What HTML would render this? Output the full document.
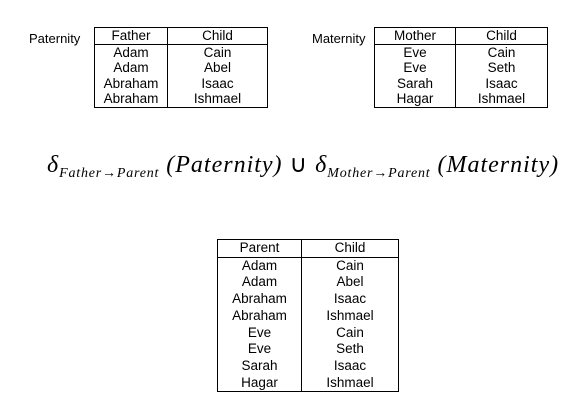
<!DOCTYPE html>
<html><head><style>
body{margin:0;width:577px;height:409px;background:#fff;position:relative;font-family:"Liberation Sans",Arial,sans-serif;overflow:hidden}
.lbl{position:absolute;font-size:13px;color:#000}
table{position:absolute;border-collapse:collapse;border:1.5px solid #000;font-size:13.5px;table-layout:fixed}
td{text-align:center;padding:0;line-height:15.6px;height:15.6px}
table.b td{line-height:16.7px;height:16.7px}
td.l{border-right:1px solid #000}
tr.h td{border-bottom:1.5px solid #000}
#f{position:absolute;left:47px;top:150px;font-family:"Liberation Serif",serif;font-style:italic;font-size:24px;white-space:nowrap;letter-spacing:1.0px}
#f sub{font-size:14px;vertical-align:-5px;letter-spacing:0.8px}
</style></head><body>
<div class="lbl" style="left:29px;top:31px">Paternity</div>
<table style="left:94px;top:27px;width:174px">
<colgroup><col style="width:73px"><col></colgroup>
<tr class="h"><td class="l">Father</td><td>Child</td></tr>
<tr><td class="l">Adam</td><td>Cain</td></tr>
<tr><td class="l">Adam</td><td>Abel</td></tr>
<tr><td class="l">Abraham</td><td>Isaac</td></tr>
<tr><td class="l">Abraham</td><td>Ishmael</td></tr>
</table>
<div class="lbl" style="left:312px;top:31px">Maternity</div>
<table style="left:374px;top:27px;width:174px">
<colgroup><col style="width:81px"><col></colgroup>
<tr class="h"><td class="l">Mother</td><td>Child</td></tr>
<tr><td class="l">Eve</td><td>Cain</td></tr>
<tr><td class="l">Eve</td><td>Seth</td></tr>
<tr><td class="l">Sarah</td><td>Isaac</td></tr>
<tr><td class="l">Hagar</td><td>Ishmael</td></tr>
</table>
<div id="f">δ<sub>Father→Parent</sub> (Paternity) <span style="font-style:normal">∪</span> δ<sub>Mother→Parent</sub> (Maternity)</div>
<table class="b" style="left:217px;top:239px;width:182px">
<colgroup><col style="width:84px"><col></colgroup>
<tr class="h"><td class="l">Parent</td><td>Child</td></tr>
<tr><td class="l">Adam</td><td>Cain</td></tr>
<tr><td class="l">Adam</td><td>Abel</td></tr>
<tr><td class="l">Abraham</td><td>Isaac</td></tr>
<tr><td class="l">Abraham</td><td>Ishmael</td></tr>
<tr><td class="l">Eve</td><td>Cain</td></tr>
<tr><td class="l">Eve</td><td>Seth</td></tr>
<tr><td class="l">Sarah</td><td>Isaac</td></tr>
<tr><td class="l">Hagar</td><td>Ishmael</td></tr>
</table>
</body></html>
